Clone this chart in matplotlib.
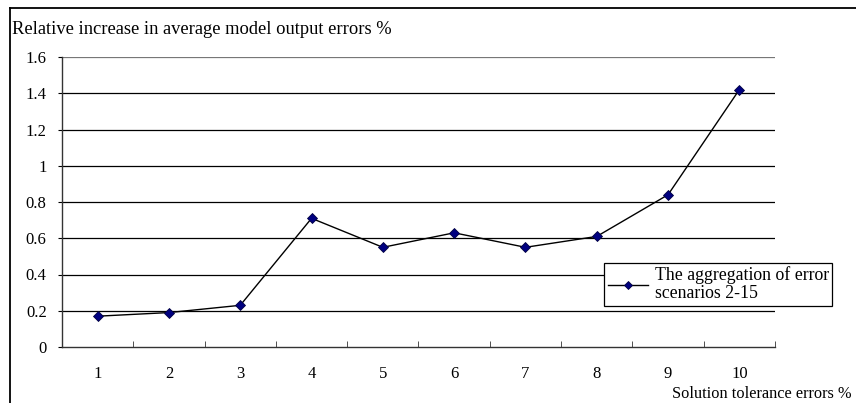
import matplotlib
matplotlib.use("Agg")
import matplotlib.pyplot as plt
from matplotlib.lines import Line2D

plt.rcParams['font.family'] = ['Liberation Serif', 'DejaVu Serif']

categories = [1, 2, 3, 4, 5, 6, 7, 8, 9, 10]
values = [0.17, 0.19, 0.23, 0.71, 0.55, 0.63, 0.55, 0.61, 0.84, 1.42]
y_ticks = [0, 0.2, 0.4, 0.6, 0.8, 1.0, 1.2, 1.4, 1.6]
y_tick_labels = ["0", "0.2", "0.4", "0.6", "0.8", "1", "1.2", "1.4", "1.6"]

W, H = 856, 403
fig = plt.figure(figsize=(W / 100, H / 100), dpi=100)
ax = fig.add_axes([62 / W, 1 - 347 / H, (775 - 62) / W, (347 - 57) / H])

x = list(range(len(categories)))
ax.plot(x, values, color='black', lw=1.0, marker='D', markersize=5.5,
        markerfacecolor='#000080', markeredgecolor='#000040', markeredgewidth=0.6,
        label='The aggregation of error\nscenarios 2-15', zorder=3)

ax.set_xlim(-0.5, len(categories) - 0.5)
ax.set_ylim(0, 1.6)
ax.set_yticks(y_ticks)
ax.set_yticklabels(y_tick_labels)
ax.set_xticks(x)
ax.set_xticklabels([str(c) for c in categories])
ax.set_xticks([i - 0.5 for i in range(len(categories) + 1)], minor=True)

for yv in y_ticks[1:-1]:
    ax.axhline(yv, color='black', lw=0.9, zorder=1)
ax.axhline(y_ticks[-1], color='#777777', lw=0.9, zorder=1)

for s in ['top', 'right']:
    ax.spines[s].set_visible(False)
ax.spines['left'].set_color('#333333')
ax.spines['bottom'].set_color('#333333')
ax.spines['left'].set_linewidth(1.0)
ax.spines['bottom'].set_linewidth(1.0)

ax.tick_params(axis='x', which='major', length=0, pad=14, labelsize=12)
ax.tick_params(axis='x', which='minor', length=4, direction='in', color='#333333')
ax.tick_params(axis='y', length=3, direction='out', labelsize=12, pad=8)

fig.text(12 / W, 1 - 30 / H, 'Relative increase in average model output errors %',
         fontsize=13.3, va='center', ha='left')
fig.text(852 / W, 1 - 394 / H, 'Solution tolerance errors %',
         fontsize=11.8, va='center', ha='right')

leg = ax.legend(loc='upper left', bbox_to_anchor=((604 - 62) / (775 - 62), 1 - (263 - 57) / (347 - 57)),
                frameon=True, fancybox=False, fontsize=12.8, handlelength=2.3,
                borderpad=0.2, handletextpad=0.35, borderaxespad=0)
for t in leg.get_texts():
    t.set_linespacing(1.05)
leg.legend_handles[0].set_markersize(4.5)
leg.get_frame().set_edgecolor('black')
leg.get_frame().set_linewidth(0.9)
leg.get_frame().set_facecolor('white')
leg.get_frame().set_alpha(1)
leg.set_clip_on(False)

fig.add_artist(Line2D([9.5 / W, 9.5 / W], [0, 1 - 8 / H], color='black', lw=1.3))
fig.add_artist(Line2D([9.5 / W, 1], [1 - 8 / H, 1 - 8 / H], color='black', lw=1.3))

fig.savefig('out.png', dpi=100)
